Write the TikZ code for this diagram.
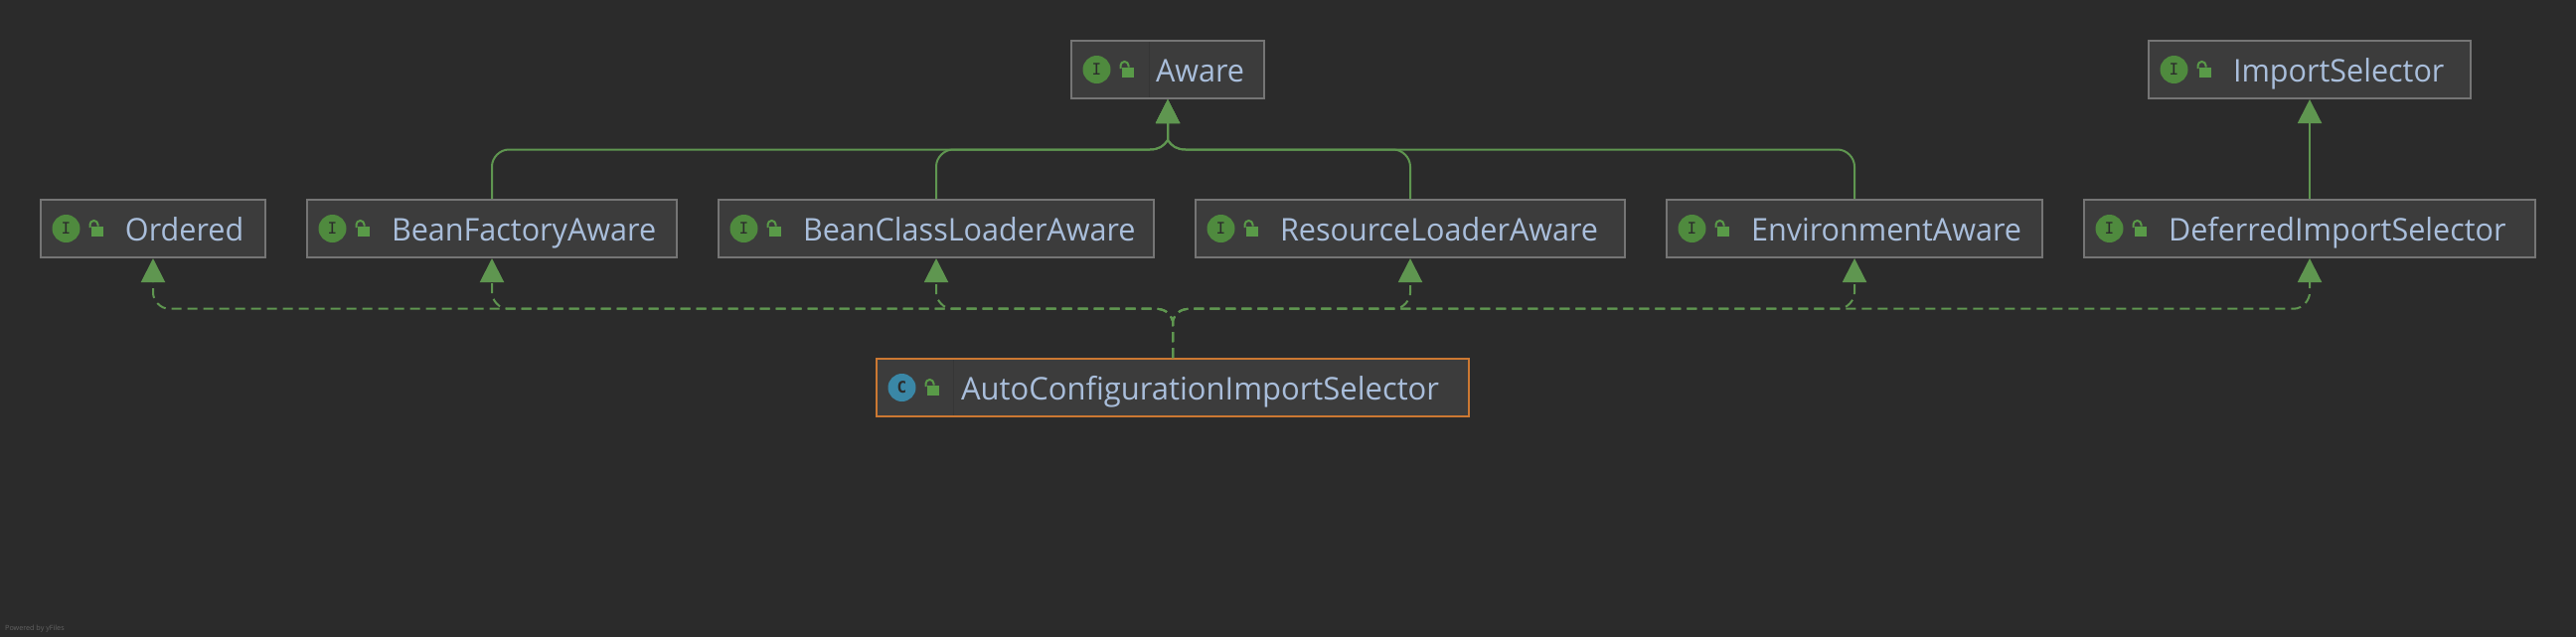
\documentclass[tikz,border=0pt]{standalone}
\usepackage{fontspec}
\usepackage{graphicx}
\setmainfont[FakeStretch=0.97]{Open Sans}
\newfontfamily\iconfont{DejaVu Sans Mono}
\newfontfamily\creditfont{Open Sans}
\usetikzlibrary{arrows.meta}
\definecolor{bgc}{HTML}{2B2B2B}
\definecolor{boxfill}{HTML}{3C3C3C}
\definecolor{boxline}{HTML}{757575}
\definecolor{focusline}{HTML}{CC7832}
\definecolor{labelc}{HTML}{A9BEDB}
\definecolor{edgec}{HTML}{5F9650}
\definecolor{ifacec}{HTML}{4F8A3E}
\definecolor{lockc}{HTML}{599A48}
\definecolor{classc}{HTML}{3A87A6}
\definecolor{sepc}{HTML}{363636}
\tikzset{
  umlbox/.style={draw=boxline,fill=boxfill,line width=2pt,rectangle,inner xsep=0pt,inner ysep=0pt,
    text=labelc,align=left,text height=41pt,text depth=17pt,font=\fontsize{31.5}{36}\selectfont},
  focused/.style={draw=focusline},
  ext/.style={draw=edgec,line width=2pt,-{Triangle[width=24pt,length=24pt]}},
  impl/.style={ext,dash pattern=on 10pt off 6pt},
  badge/.style={circle,inner sep=0pt,minimum size=28pt,text=bgc,font=\iconfont\fontsize{16}{16}\selectfont},
  lockbody/.style={fill=lockc,draw=none},
  lockarc/.style={draw=lockc,line width=2pt},
  sepline/.style={draw=sepc,line width=1pt},
  credit/.style={text=boxline!75!bgc,inner sep=0pt,anchor=base west,font=\creditfont\fontsize{7.2}{8}\selectfont}
}
% name, left, right, top, label, box style, badge colour, badge letter
\newcommand\classbox[8]{%
  \pgfmathsetmacro\bw{#3-#2}%
  \pgfmathsetmacro\bx{(#2+#3)/2}%
  \pgfmathsetmacro\by{#4+29}%
  \node[umlbox,#6,text width=\bw pt,minimum width=\bw pt] (#1) at (\bx,\by) {\hspace*{85pt}#5};
  \node[badge,fill=#7] (#1-badge) at (#2+25.5,#4+29) {#8};
  \fill[lockbody] (#2+51,#4+26.7) rectangle (#2+63,#4+36.7);
  \draw[lockarc] (#2+49.5,#4+28) -- (#2+49.5,#4+25) arc[start angle=180,end angle=360,radius=4] -- (#2+57.5,#4+26.5);
}
% child node, +/- direction towards the junction, bus end, first and second control of junction curve
\newcommand\solidedge[5]{%
  \draw[ext] (#1.north) -- ([yshift=-17pt]#1.north |- #3)
    .. controls ([yshift=-8pt]#1.north |- #3) and ([xshift=#2 8pt]#1.north |- #3) .. ([xshift=#2 17pt]#1.north |- #3)
    -- (#3) .. controls (#4) and (#5) .. (busT) -- (aware.south);
}
\newcommand\dashededge[5]{%
  \draw[impl] (autoconf.north) -- (dashT) .. controls (#5) and (#4) .. (#3)
    -- ([xshift=#2 16pt]#1.south |- #3)
    .. controls ([xshift=#2 7pt]#1.south |- #3) and ([yshift=-7pt]#1.south |- dashC) .. (#1.south |- dashC)
    -- (#1.south);
}
\begin{document}
\begin{tikzpicture}[x=1pt,y=-1pt]
\useasboundingbox (0,0) rectangle (2592,640);
\fill[bgc] (-5,-5) rectangle (2597,645);

\classbox{aware}{1078}{1272}{41}{Aware}{}{ifacec}{I}
\classbox{importsel}{2162}{2486}{41}{ImportSelector}{}{ifacec}{I}
\classbox{ordered}{41}{267}{201}{Ordered}{}{ifacec}{I}
\classbox{beanfactory}{309}{681}{201}{BeanFactoryAware}{}{ifacec}{I}
\classbox{beanclass}{723}{1161}{201}{BeanClassLoaderAware}{}{ifacec}{I}
\classbox{resource}{1203}{1635}{201}{ResourceLoaderAware}{}{ifacec}{I}
\classbox{environment}{1677}{2055}{201}{EnvironmentAware}{}{ifacec}{I}
\classbox{deferred}{2097}{2551}{201}{DeferredImportSelector}{}{ifacec}{I}
\classbox{autoconf}{882}{1478}{361}{\scalebox{1.014}[1]{AutoConfigurationImportSelector}}{focused}{classc}{{\bfseries C}}

\draw[sepline] (1156,42) -- (1156,98);
\draw[sepline] (959,362) -- (959,418);

% solid bus into Aware
\coordinate (busL) at (1157,150.5);
\coordinate (busR) at (1193,150.5);
\coordinate (busT) at (1175,141);
\coordinate (cl1) at (1166,150.5);
\coordinate (cl2) at (1171,147);
\coordinate (cr1) at (1184,150.5);
\coordinate (cr2) at (1179,147);
\solidedge{beanfactory}{+}{busL}{cl1}{cl2}
\solidedge{beanclass}{+}{busL}{cl1}{cl2}
\solidedge{resource}{-}{busR}{cr1}{cr2}
\solidedge{environment}{-}{busR}{cr1}{cr2}
\draw[ext] (deferred.north) -- (importsel.south);

% dashed bus out of AutoConfigurationImportSelector
\coordinate (dashT) at (1180,323);
\coordinate (dashL) at (1162,310.7);
\coordinate (dashR) at (1198,310.7);
\coordinate (dashC) at (1180,294.7);
\coordinate (dl1) at (1171,310.7);
\coordinate (dl2) at (1177,314);
\coordinate (dr1) at (1189,310.7);
\coordinate (dr2) at (1183,314);
\dashededge{ordered}{+}{dashL}{dl1}{dl2}
\dashededge{beanfactory}{+}{dashL}{dl1}{dl2}
\dashededge{beanclass}{+}{dashL}{dl1}{dl2}
\dashededge{resource}{-}{dashR}{dr1}{dr2}
\dashededge{environment}{-}{dashR}{dr1}{dr2}
\dashededge{deferred}{-}{dashR}{dr1}{dr2}

\node[credit] (poweredby) at (5,634) {Powered by yFiles};
\end{tikzpicture}
\end{document}
